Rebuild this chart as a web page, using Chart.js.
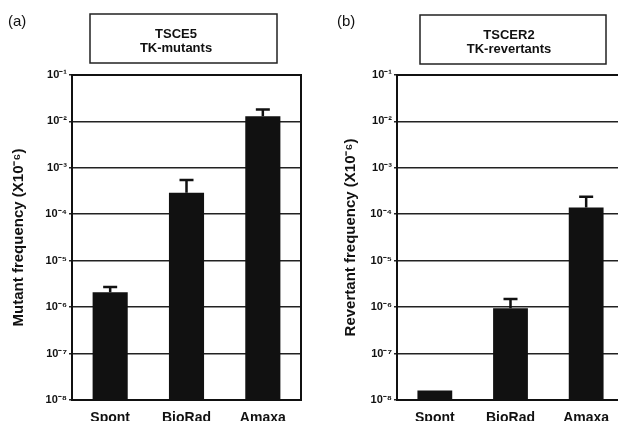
<!DOCTYPE html>
<html>
<head>
<meta charset="utf-8">
<script src="https://cdn.jsdelivr.net/npm/chart.js@4.4.1/dist/chart.umd.min.js"></script>
<style>
  body { margin: 0; background: #fff; }
  #wrap { position: relative; width: 618px; height: 421px; overflow: hidden; background: #fff; }
  canvas { position: absolute; top: 0; }
  #chartA { left: 0; }
  #chartB { left: 310px; }
</style>
</head>
<body>
<div id="wrap">
  <canvas id="chartA" width="310" height="421"></canvas>
  <canvas id="chartB" width="320" height="421"></canvas>
</div>
<script>
const categories = ['Spont', 'BioRad', 'Amaxa'];
const mutantFreq = [2.1e-6, 2.9e-4, 1.3e-2];
const mutantUpper = [2.7e-6, 5.5e-4, 1.8e-2];
const revertantFreq = [1.6e-8, 9.5e-7, 1.4e-4];
const revertantUpper = [null, 1.5e-6, 2.4e-4];
const tickValues = [1e-8, 1e-7, 1e-6, 1e-5, 1e-4, 1e-3, 1e-2, 1e-1];
const tickLabels = ['10⁻⁸', '10⁻⁷', '10⁻⁶', '10⁻⁵', '10⁻⁴', '10⁻³', '10⁻²', '10⁻¹'];

const FONT = '"Liberation Sans", Arial, sans-serif';
const INK = '#111';

// error bars, plot frame, panel letter and boxed title
const panelDecor = {
  id: 'panelDecor',
  afterDatasetsDraw(chart, args, opts) {
    const ctx = chart.ctx;
    const bars = chart.getDatasetMeta(0).data;
    const yScale = chart.scales.y;
    ctx.save();
    ctx.strokeStyle = INK;
    ctx.lineWidth = 2.5;
    opts.upper.forEach((v, i) => {
      if (v == null) return;
      const bar = bars[i];
      const top = yScale.getPixelForValue(v);
      ctx.beginPath();
      ctx.moveTo(bar.x, bar.y);
      ctx.lineTo(bar.x, top);
      ctx.moveTo(bar.x - 7, top);
      ctx.lineTo(bar.x + 7, top);
      ctx.stroke();
    });
    ctx.restore();
  },
  afterDraw(chart, args, opts) {
    const ctx = chart.ctx;
    const a = chart.chartArea;
    ctx.save();
    ctx.strokeStyle = INK;
    ctx.lineWidth = 2;
    ctx.strokeRect(a.left, a.top, a.right - a.left, a.bottom - a.top);

    ctx.fillStyle = INK;
    ctx.font = '15px ' + FONT;
    ctx.textAlign = 'left';
    ctx.textBaseline = 'alphabetic';
    ctx.fillText(opts.tag, opts.tagX, 26);

    const b = opts.box;
    ctx.lineWidth = 1.5;
    ctx.strokeStyle = '#222';
    ctx.strokeRect(b.x, b.y, b.w, b.h);
    ctx.font = 'bold 13px ' + FONT;
    ctx.textAlign = 'center';
    ctx.fillText(opts.lines[0], opts.textX, b.y + 24);
    ctx.fillText(opts.lines[1], opts.textX, b.y + 38);
    ctx.restore();
  }
};

function makeChart(id, values, upper, yTitle, yWidth, titlePad, rightPad, decor) {
  const ctx = document.getElementById(id).getContext('2d');
  return new Chart(ctx, {
    type: 'bar',
    data: {
      labels: categories,
      datasets: [{
        data: values,
        backgroundColor: INK,
        borderWidth: 0,
        barPercentage: 0.46,
        categoryPercentage: 1
      }]
    },
    options: {
      responsive: false,
      animation: false,
      layout: { padding: { left: 0, right: rightPad, top: 75, bottom: 0 } },
      plugins: {
        legend: { display: false },
        tooltip: { enabled: false },
        panelDecor: Object.assign({ upper: upper }, decor)
      },
      scales: {
        x: {
          afterFit: s => { s.height = 21; },
          grid: { display: false },
          border: { color: INK, width: 2 },
          ticks: { color: INK, padding: 2, font: { family: FONT, size: 14, weight: 'bold' } }
        },
        y: {
          type: 'logarithmic',
          min: 1e-8,
          max: 1e-1,
          afterBuildTicks: s => { s.ticks = tickValues.map(v => ({ value: v })); },
          afterFit: s => { s.width = yWidth; },
          grid: { color: '#222', lineWidth: 1.6, tickLength: 3 },
          border: { color: INK, width: 2 },
          ticks: {
            color: INK,
            padding: 2,
            autoSkip: false,
            font: { family: FONT, size: 11, weight: 'bold' },
            callback: (v, i) => tickLabels[i]
          },
          title: {
            display: true,
            text: yTitle,
            color: INK,
            padding: { top: titlePad, bottom: 0 },
            font: { family: FONT, size: 15, weight: 'bold' }
          }
        }
      }
    },
    plugins: [panelDecor]
  });
}

makeChart('chartA', mutantFreq, mutantUpper, 'Mutant frequency (X10⁻⁶)', 72, 10, 9, {
  tag: '(a)', tagX: 8,
  box: { x: 90, y: 14, w: 187, h: 49 },
  lines: ['TSCE5', 'TK-mutants'], textX: 176
});

makeChart('chartB', revertantFreq, revertantUpper, 'Revertant frequency (X10⁻⁶)', 87, 32, 6, {
  tag: '(b)', tagX: 27,
  box: { x: 110, y: 15, w: 186, h: 49 },
  lines: ['TSCER2', 'TK-revertants'], textX: 199
});
</script>
</body>
</html>
